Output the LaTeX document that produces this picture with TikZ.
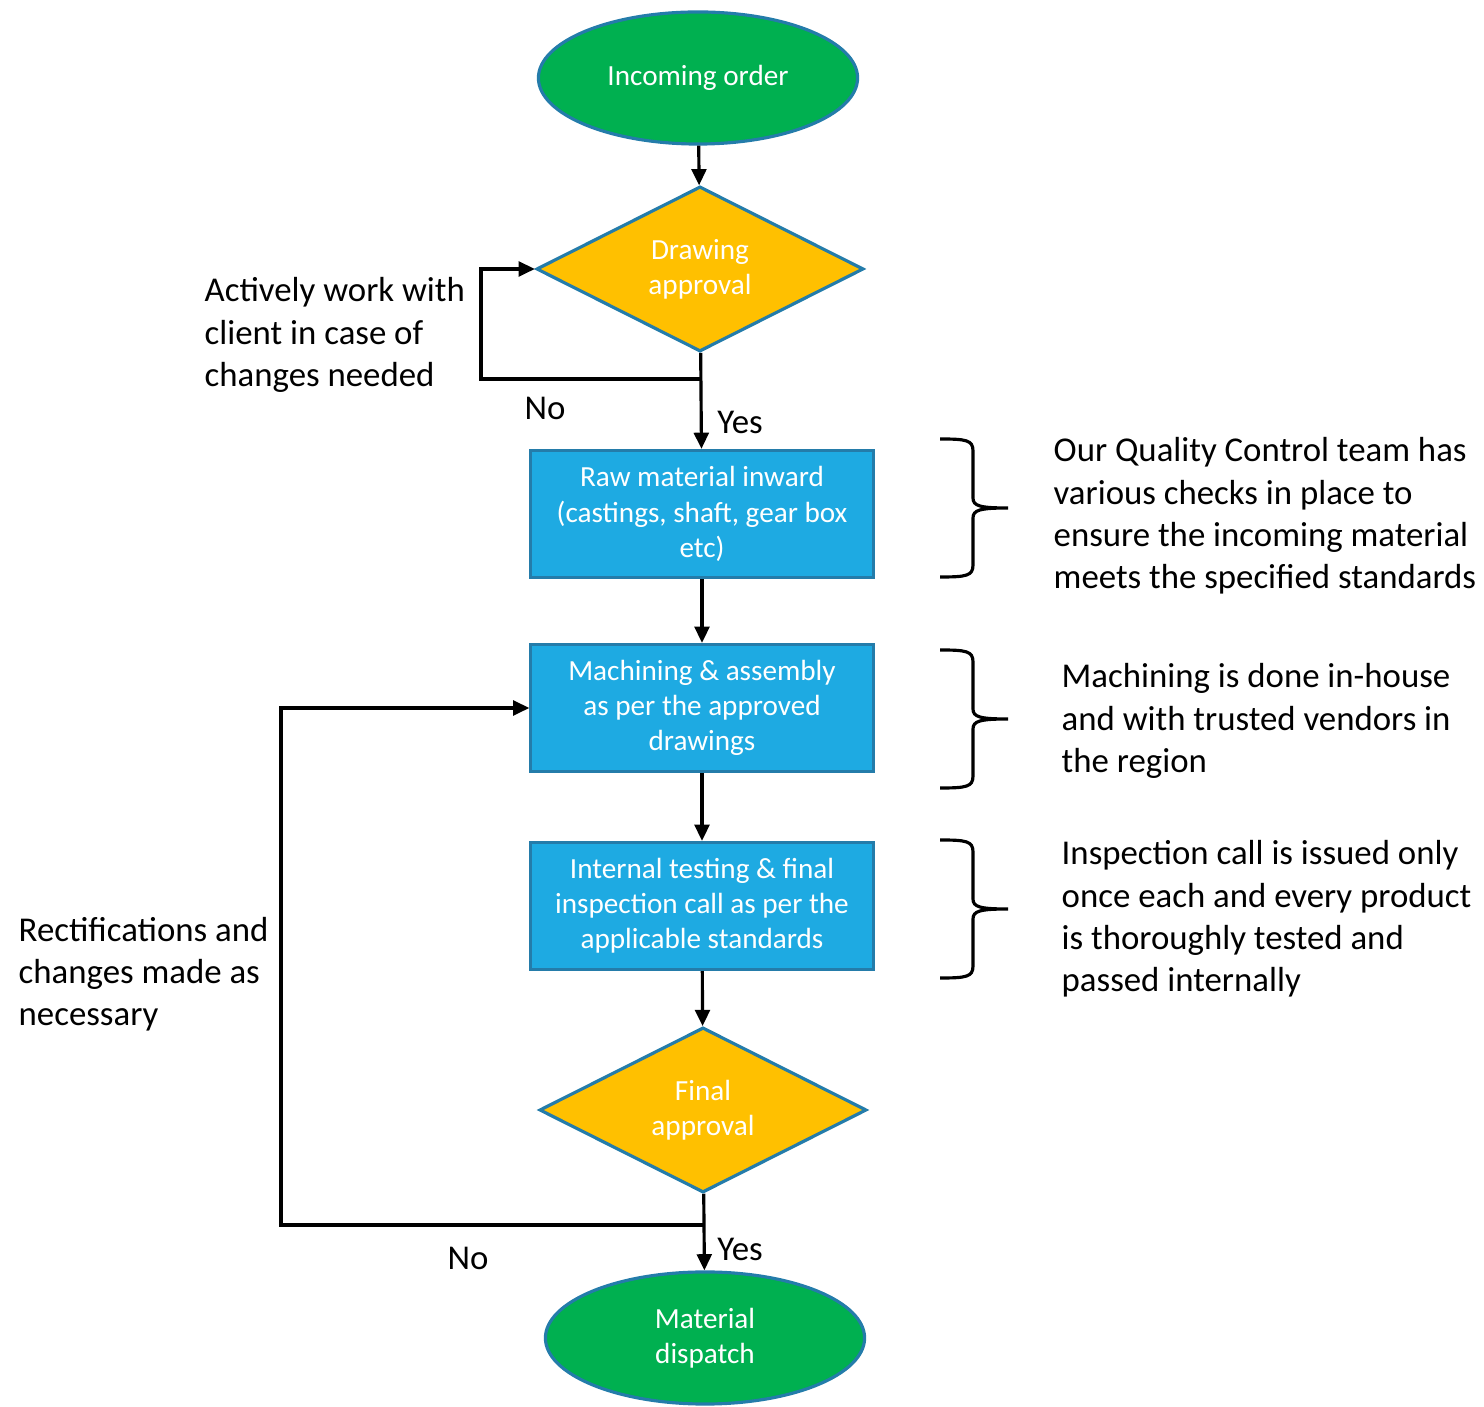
\documentclass[tikz,border=0pt]{standalone}
\usepackage{fontspec}
\setmainfont{Carlito}
\usetikzlibrary{shapes.geometric,arrows.meta}
\definecolor{termgreen}{HTML}{00B050}
\definecolor{decgold}{HTML}{FFC000}
\definecolor{boxblue}{RGB}{30,170,226}
\definecolor{edgeblue}{RGB}{36,124,170}
\begin{document}
\begin{tikzpicture}[x=0.01cm, y=-0.01cm, >={Triangle[length=4.6pt,width=4.2pt]},
	term/.style={ellipse, draw=edgeblue, fill=termgreen, line width=0.9pt, minimum width=3.19cm, minimum height=1.32cm, text=white, align=center, font=\fontsize{8.3}{10}\selectfont},
	decide/.style={diamond, draw=edgeblue, fill=decgold, line width=0.9pt, minimum width=3.27cm, minimum height=1.65cm, inner sep=0pt, text=white, align=center, font=\fontsize{8.3}{10}\selectfont},
	stepbox/.style={rectangle, draw=edgeblue, fill=boxblue, line width=0.9pt, minimum width=3.42cm, minimum height=1.27cm, text=white, align=center, font=\fontsize{8.3}{10}\selectfont},
	note/.style={inner sep=0pt, align=left, font=\fontsize{9.9}{12}\selectfont},
	lbl/.style={inner sep=0pt, font=\fontsize{9.9}{12}\selectfont}]
	\useasboundingbox (0,0) rectangle (1484,1407);
	\path
		(698,78) node[term] (incoming) {Incoming order}
		(700,269) node[decide] (drawapp) {Drawing\\approval}
		(702,514) node[stepbox] (rawmat) {Raw material inward\\(castings, shaft, gear box\\etc)}
		(702,708) node[stepbox] (machining) {Machining \& assembly\\as per the approved\\drawings}
		(702,906) node[stepbox] (testing) {Internal testing \& final\\inspection call as per the\\applicable standards}
		(703,1110) node[decide] (finalapp) {Final\\approval}
		(705,1338) node[term] (dispatch) {Material\\dispatch}
	;
	% side notes
	\path
		(204,335) node[note, anchor=west] (clientnote) {Actively work with\\client in case of\\changes needed}
		(18,974) node[note, anchor=west] (rectnote) {Rectifications and\\changes made as\\necessary}
		(1053,516) node[note, anchor=west] (qcnote) {Our Quality Control team has\\various checks in place to\\ensure the incoming material\\meets the specified standards}
		(1061,721) node[note, anchor=west] (machnote) {Machining is done in-house\\and with trusted vendors in\\the region}
		(1061,919) node[note, anchor=west] (inspnote) {Inspection call is issued only\\once each and every product\\is thoroughly tested and\\passed internally}
		(545,408) node[lbl] (noone) {No}
		(740,422) node[lbl] (yesone) {Yes}
		(468,1258) node[lbl] (notwo) {No}
		(740,1249) node[lbl] (yestwo) {Yes}
	;
	\coordinate (dsplit) at (700,379);
	\coordinate (dcorner) at (481,379);
	\coordinate (fsplit) at (703,1225);
	\coordinate (fcorner) at (281,1225);

	\draw[line width=0.9pt, ->] (incoming) -- (drawapp);
	\draw[line width=0.9pt, ->] (drawapp) -- (rawmat);
	\draw[line width=0.9pt, ->] (rawmat) -- (machining);
	\draw[line width=0.9pt, ->] (machining) -- (testing);
	\draw[line width=0.9pt, ->] (testing) -- (finalapp);
	\draw[line width=0.9pt, ->] (finalapp) -- (dispatch);
	\draw[line width=0.9pt, ->] (dsplit) -- (dcorner) |- (drawapp.west);
	\draw[line width=0.9pt, ->] (fsplit) -- (fcorner) |- (machining.west);

	% braces
	\foreach \t/\b in {439/577, 650/788, 840/978}{
		\pgfmathsetmacro{\m}{(\t+\b)/2}
		\draw[line width=0.9pt] (940,\t) .. controls (966,\t) and (973,\t+1) .. (973,\t+12) -- (973,\m-10)
			.. controls (973,\m-2) and (980,\m) .. (1008,\m)
			.. controls (980,\m) and (973,\m+2) .. (973,\m+10) -- (973,\b-12)
			.. controls (973,\b-1) and (966,\b) .. (940,\b);
	}
\end{tikzpicture}
\end{document}
